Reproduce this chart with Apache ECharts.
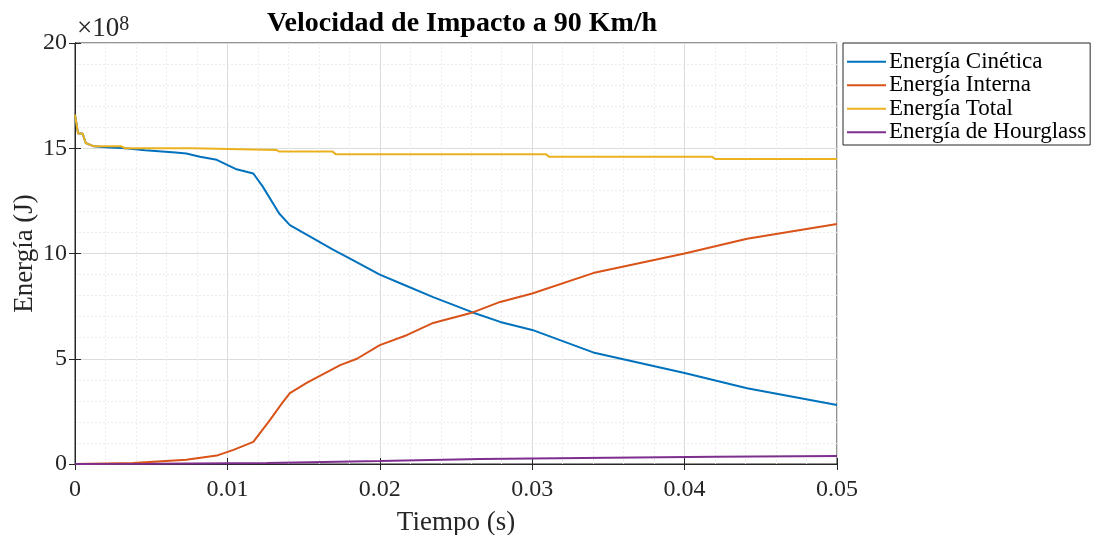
<!DOCTYPE html>
<html>
<head>
<meta charset="utf-8">
<script src="https://cdn.jsdelivr.net/npm/echarts@6/dist/echarts.min.js"></script>
<style>
  html, body { margin: 0; padding: 0; background: #fff; }
  #main { width: 1094px; height: 535px; }
</style>
</head>
<body>
<div id="main"></div>
<script>
// datos en unidades de 1e8 J, tiempo en s
var seriesNames = ['Energía Cinética', 'Energía Interna', 'Energía Total', 'Energía de Hourglass'];
var colors = ['#0072BD', '#D95319', '#EDB120', '#7E2F8E'];
var yTicks = [0, 5, 10, 15, 20];

var cinetica = [
  [0, 16.6], [0.0001, 16.6], [0.0002, 15.7], [0.0005, 15.7], [0.0007, 15.25], [0.0012, 15.1],
  [0.002, 15.05], [0.0033, 15.0], [0.0046, 14.9], [0.0066, 14.8], [0.0073, 14.75], [0.0082, 14.6],
  [0.0093, 14.45], [0.0106, 14.0], [0.0117, 13.8], [0.0123, 13.2], [0.0134, 11.9], [0.0141, 11.35],
  [0.0152, 10.9], [0.0169, 10.2], [0.0182, 9.7], [0.020, 9.0], [0.0213, 8.6], [0.0235, 7.93],
  [0.0261, 7.2], [0.0279, 6.75], [0.030, 6.37], [0.034, 5.3], [0.040, 4.32], [0.0441, 3.6], [0.05, 2.8]
];
var interna = [
  [0, 0], [0.0038, 0.05], [0.0073, 0.2], [0.0093, 0.4], [0.0104, 0.67], [0.0117, 1.05],
  [0.0128, 2.1], [0.0136, 2.9], [0.0141, 3.37], [0.0152, 3.85], [0.0174, 4.7], [0.0185, 5.0],
  [0.020, 5.65], [0.0218, 6.13], [0.0235, 6.7], [0.0261, 7.2], [0.0279, 7.7], [0.030, 8.1],
  [0.034, 9.07], [0.040, 10.0], [0.0441, 10.7], [0.05, 11.4]
];
var total = [
  [0, 16.6], [0.0001, 16.6], [0.0002, 15.7], [0.0005, 15.7], [0.0007, 15.25], [0.0012, 15.1],
  [0.003, 15.1], [0.0033, 15.0], [0.0077, 15.0], [0.0078, 14.92], [0.0132, 14.92], [0.0134, 14.84],
  [0.0169, 14.84], [0.0171, 14.72], [0.0309, 14.72], [0.0311, 14.6], [0.0418, 14.6], [0.042, 14.49],
  [0.05, 14.49]
];
var hourglass = [
  [0, 0], [0.005, 0.01], [0.0126, 0.05], [0.02, 0.14], [0.0266, 0.24], [0.035, 0.3], [0.042, 0.34], [0.05, 0.38]
];
var allData = [cinetica, interna, total, hourglass];

var font = 'Liberation Serif';
var chart = echarts.init(document.getElementById('main'));

var option = {
  animation: false,
  color: colors,
  title: {
    text: 'Velocidad de Impacto a 90 Km/h',
    left: 457,
    textAlign: 'center',
    top: 5,
    textStyle: { fontFamily: font, fontSize: 28, fontWeight: 'bold', color: '#000' }
  },
  legend: {
    orient: 'vertical',
    left: 843,
    top: 43,
    width: 245,
    padding: [7, 4, 1, 4],
    itemGap: 0,
    itemWidth: 39,
    itemHeight: 2,
    icon: 'rect',
    borderColor: '#262626',
    borderWidth: 1,
    data: seriesNames,
    textStyle: { fontFamily: font, fontSize: 23, color: '#000', lineHeight: 23.5, padding: [0, 0, 0, -2] }
  },
  grid: {
    left: 75, top: 43, right: 257, bottom: 71,
    containLabel: false,
    outerBoundsMode: 'none',
    show: true, borderColor: '#262626', borderWidth: 1
  },
  graphic: [{
    type: 'text',
    left: 77,
    top: 15,
    style: {
      text: '{a|×10}{b|8}',
      rich: {
        a: { fontFamily: font, fontSize: 27, fill: '#262626' },
        b: { fontFamily: font, fontSize: 20, fill: '#262626', verticalAlign: 'top' }
      }
    }
  }],
  xAxis: [{
    type: 'value',
    min: 0, max: 0.05, interval: 0.01,
    name: 'Tiempo (s)',
    nameLocation: 'middle',
    nameGap: 45,
    nameMoveOverlap: false,
    nameTextStyle: { fontFamily: font, fontSize: 27, color: '#262626' },
    axisLine: { show: true, lineStyle: { color: '#262626' } },
    axisTick: { show: true, inside: true, length: 6, lineStyle: { color: '#262626' } },
    axisLabel: { fontFamily: font, fontSize: 24, color: '#262626', margin: 14,
      formatter: function (v) { return v === 0 ? '0' : v.toFixed(2); } },
    splitLine: { show: true, lineStyle: { color: '#dcdcdc' } },
    minorTick: { show: false, splitNumber: 5 },
    minorSplitLine: { show: true, lineStyle: { color: '#ececec', type: [2, 2] } }
  }, {
    type: 'value', position: 'top',
    min: 0, max: 0.05, interval: 0.01,
    axisLine: { show: true, lineStyle: { color: '#262626' } },
    axisTick: { show: true, inside: true, length: 6, lineStyle: { color: '#262626' } },
    axisLabel: { show: false },
    splitLine: { show: false }
  }],
  yAxis: [{
    type: 'value',
    min: 0, max: 20, interval: 5,
    name: 'Energía (J)',
    nameLocation: 'middle',
    nameGap: 37,
    nameMoveOverlap: false,
    nameTextStyle: { fontFamily: font, fontSize: 27, color: '#262626' },
    axisLine: { show: true, lineStyle: { color: '#262626' } },
    axisTick: { show: true, inside: true, length: 6, lineStyle: { color: '#262626' } },
    axisLabel: { fontFamily: font, fontSize: 24, color: '#262626', margin: 8,
      formatter: function (v) { return yTicks.indexOf(v) >= 0 ? String(v) : ''; } },
    splitLine: { show: true, lineStyle: { color: '#dcdcdc' } },
    minorTick: { show: false, splitNumber: 5 },
    minorSplitLine: { show: true, lineStyle: { color: '#ececec', type: [2, 2] } }
  }, {
    type: 'value', position: 'right',
    min: 0, max: 20, interval: 5,
    axisLine: { show: true, lineStyle: { color: '#262626' } },
    axisTick: { show: true, inside: true, length: 6, lineStyle: { color: '#262626' } },
    axisLabel: { show: false },
    splitLine: { show: false }
  }],
  series: seriesNames.map(function (name, i) {
    return {
      name: name,
      type: 'line',
      xAxisIndex: 0,
      yAxisIndex: 0,
      data: allData[i],
      showSymbol: false,
      symbol: 'none',
      lineStyle: { width: 2, color: colors[i] },
      itemStyle: { color: colors[i] }
    };
  })
};

chart.setOption(option);
</script>
</body>
</html>
